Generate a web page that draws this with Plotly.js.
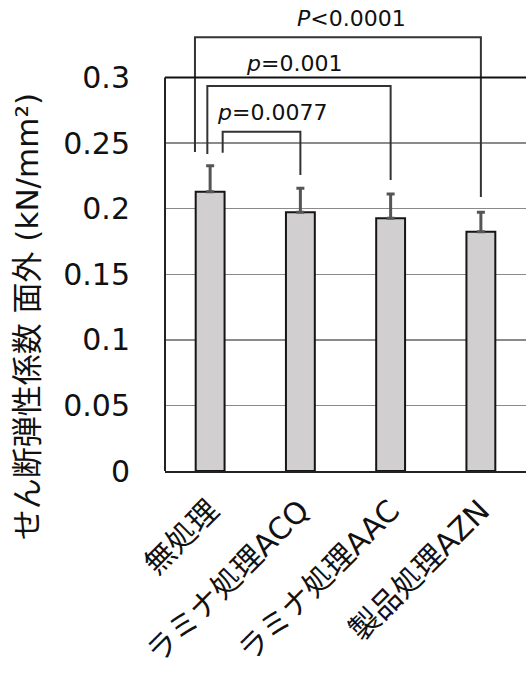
<!DOCTYPE html>
<html>
<head>
<meta charset="utf-8">
<script src="https://cdn.plot.ly/plotly-3.0.1.min.js"></script>
<style>html,body{margin:0;padding:0;background:#fff;}#chart{width:526px;height:679px;}</style>
</head>
<body>
<div id="chart"></div>
<script>
// ---- data ----
var categories = ["無処理", "ラミナ処理ACQ", "ラミナ処理AAC", "製品処理AZN"];
var meanValues = [0.213, 0.1973, 0.1927, 0.1825];
var errorValues = [0.0198, 0.0183, 0.0185, 0.0148];
var tickValues = [0, 0.05, 0.1, 0.15, 0.2, 0.25, 0.3];
var tickLabels = ["0", "0.05", "0.1", "0.15", "0.2", "0.25", "0.3"];
var comparisonLabels = ["<i>P</i><0.0001", "<i>p</i>=0.001", "<i>p</i>=0.0077"];
var yTitle = "せん断弾性係数 面外 (kN/mm²)";

// ---- layout config ----
var FONT = 'DejaVu Sans, "Noto Sans CJK JP", sans-serif';
var Y_MAX = 0.35;       // axis range top (room for brackets)
var Y_FRAME = 0.3;      // top frame line

var brackets = [
  {x0: -0.168, x1: 3.0, y: 0.3307, yl: 0.2433, yr: 0.209, tx: 1.561, ty: 0.3447},
  {x0: -0.031, x1: 2.0, y: 0.2936, yl: 0.2417, yr: 0.2219, tx: 0.929, ty: 0.3106},
  {x0: 0.139, x1: 1.0, y: 0.2587, yl: 0.2427, yr: 0.2257, tx: 0.691, ty: 0.273}
];

var shapes = [];
var annotations = [];
brackets.forEach(function(b, i) {
  shapes.push({
    type: 'path', xref: 'x', yref: 'y', layer: 'above',
    path: 'M ' + b.x0 + ' ' + b.yl + ' L ' + b.x0 + ' ' + b.y + ' L ' + b.x1 + ' ' + b.y + ' L ' + b.x1 + ' ' + b.yr,
    line: {color: '#333', width: 2}
  });
  annotations.push({
    x: b.tx, y: b.ty, xref: 'x', yref: 'y', text: comparisonLabels[i],
    showarrow: false, xanchor: 'center', yanchor: 'middle',
    font: {family: FONT, size: 22, color: '#111'}
  });
});

shapes.push({type: 'line', xref: 'paper', yref: 'y', x0: 0, x1: 1, y0: Y_FRAME, y1: Y_FRAME,
  line: {color: '#111', width: 2}, layer: 'above'});
shapes.push({type: 'line', xref: 'paper', yref: 'paper', x0: 0, x1: 0, y0: 0, y1: Y_FRAME / Y_MAX,
  line: {color: '#222', width: 2}, layer: 'above'});

annotations.push({
  xref: 'paper', yref: 'paper', x: -0.382, y: 0.335, text: yTitle, textangle: -90,
  showarrow: false, xanchor: 'center', yanchor: 'middle',
  font: {family: FONT, size: 31, color: '#111'}
});

var trace = {
  type: 'bar',
  x: categories,
  y: meanValues,
  marker: {color: '#d1cfcf', line: {color: '#151515', width: 2}},
  error_y: {type: 'data', array: errorValues, arrayminus: errorValues.map(function(){return 0;}),
            symmetric: false, color: '#555', thickness: 3, width: 4},
  hoverinfo: 'none'
};

var layout = {
  width: 526, height: 679,
  margin: {l: 165, r: 0, t: 12, b: 208},
  paper_bgcolor: '#fff', plot_bgcolor: '#fff',
  showlegend: false,
  bargap: 0.68,
  xaxis: {
    type: 'category', range: [-0.5, 3.5], tickangle: -45,
    showline: true, linecolor: '#222', linewidth: 2, showgrid: false, ticks: '',
    tickfont: {family: FONT, size: 30, color: '#111'},
    ticklabelstandoff: 8
  },
  yaxis: {
    range: [0, Y_MAX], tickmode: 'array', tickvals: tickValues, ticktext: tickLabels,
    showgrid: true, gridcolor: '#8a8a8a', gridwidth: 1.5, zeroline: false, showline: false,
    ticks: '', tickfont: {family: FONT, size: 30, color: '#111'},
    ticklabelstandoff: 34
  },
  shapes: shapes,
  annotations: annotations
};

Plotly.newPlot('chart', [trace], layout, {staticPlot: true});
</script>
</body>
</html>
